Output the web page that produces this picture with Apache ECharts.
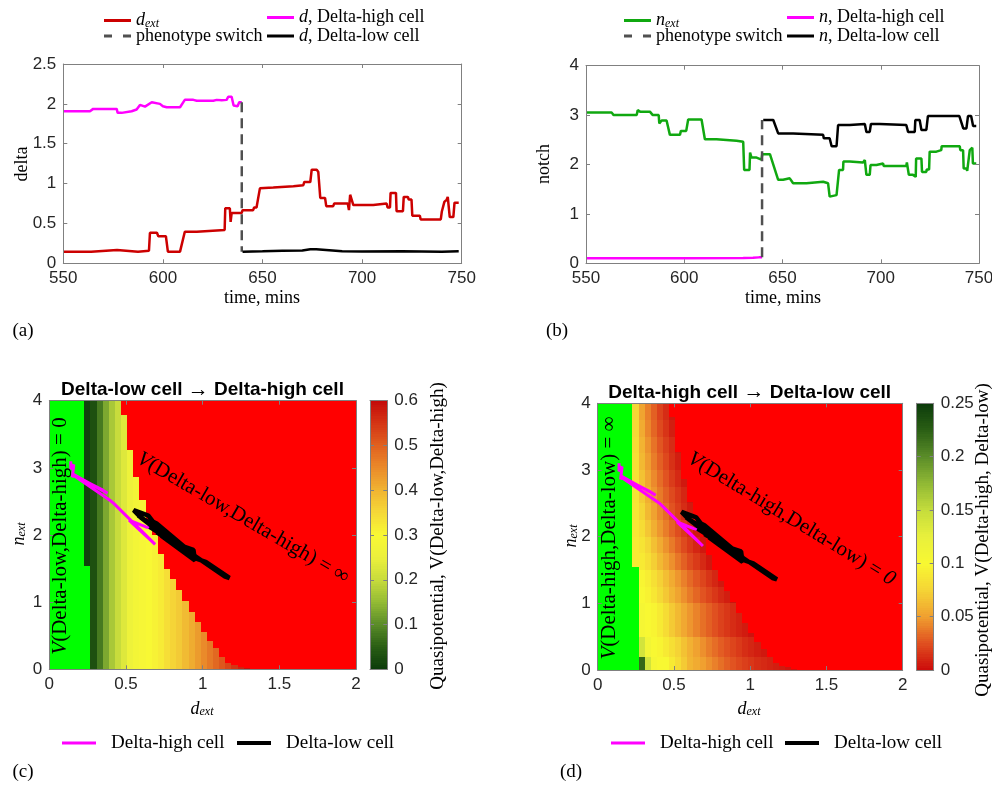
<!DOCTYPE html>
<html>
<head>
<meta charset="utf-8">
<script src="https://cdn.jsdelivr.net/npm/echarts@6/dist/echarts.min.js"></script>
<style>
  html, body { margin: 0; padding: 0; background: #fff; }
  #main { width: 992px; height: 787px; }
</style>
</head>
<body>
<div id="main"></div>
<script>
// ---- time series, [time (mins), value] ----
var dExt = [[550,0.146],[564,0.146],[564.5,0.167],[577,0.167],[577.5,0.146],[587.5,0.146],[588,0.158],[593,0.158],[593.5,0.383],[597,0.383],[597.7,0.34],[601.5,0.34],[602.5,0.146],[608.6,0.146],[611,0.396],[617,0.396],[617.5,0.417],[631,0.417],[631.3,0.69],[633.6,0.69],[634,0.52],[634.5,0.63],[639.5,0.63],[640,0.667],[645.3,0.667],[645.8,0.70],[647,0.70],[648.7,0.94],[655.4,0.95],[656,0.967],[665.5,0.967],[666,0.98],[670.5,0.98],[671,1.02],[674,1.02],[674.7,1.175],[677.2,1.175],[678,1.146],[678.5,1.146],[679,0.82],[681.4,0.82],[682,0.717],[685.5,0.717],[686,0.75],[692.8,0.75],[693.4,0.667],[694,0.86],[694.8,0.86],[695.6,0.73],[705.6,0.73],[706,0.75],[712.3,0.75],[712.8,0.70],[714,0.70],[714.3,0.883],[717,0.883],[717.3,0.654],[720.5,0.654],[720.9,0.833],[723,0.833],[723.4,0.8],[724.8,0.8],[725.2,0.596],[729,0.596],[729.4,0.55],[739.5,0.55],[740,0.646],[741,0.646],[741.3,0.77],[742.5,0.8],[743,0.833],[743.6,0.833],[744,0.58],[745.8,0.58],[746.4,0.76],[748.5,0.76]];
var dHigh = [[550,1.908],[563.4,1.908],[565,1.937],[576.8,1.937],[577.3,1.887],[579.3,1.887],[580,1.908],[584.3,1.908],[585,1.929],[586.8,1.929],[588.5,1.987],[591,1.965],[592,1.99],[594.4,2.02],[598.5,2.0],[600,1.97],[601.9,1.958],[608.6,1.958],[611,2.05],[615.3,2.05],[617,2.04],[625.3,2.04],[627,2.05],[629.5,2.045],[632,2.05],[632.8,2.09],[634.5,2.09],[635.5,1.98],[637.5,1.97],[638.3,2.02],[639.6,2.02]];
var dLow = [[640,0.146],[650,0.15],[660,0.158],[670,0.16],[674,0.175],[677,0.175],[678,0.155],[690,0.15],[700,0.148],[720,0.15],[740,0.146],[748.5,0.15]];
var nExt = [[550,3.055],[563,3.055],[564,3.0],[575.8,3.0],[576.3,3.1],[577.5,3.07],[582.5,3.07],[584,3.0],[587,3.0],[587.3,2.83],[588.5,2.89],[591,2.89],[592.7,2.6],[597.8,2.6],[598.3,2.68],[601,2.68],[602,2.91],[608.8,2.91],[610.5,2.51],[616.4,2.51],[616.8,2.48],[626.6,2.48],[627,2.46],[630,2.46],[630.5,1.89],[633.2,1.89],[633.5,2.24],[634.2,2.14],[636.8,2.14],[637,2.1],[639.3,2.1],[639.7,2.21],[643.6,2.21],[647.8,1.69],[650.3,1.69],[650.6,1.72],[653.7,1.72],[655.4,1.62],[662.2,1.62],[662.5,1.65],[670.7,1.65],[671,1.62],[673.2,1.62],[674,1.35],[677.5,1.38],[678.8,1.89],[680.8,1.89],[681,2.06],[684.2,2.06],[684.5,2.04],[691,2.04],[691.9,2.09],[692.7,1.79],[694.4,1.79],[694.8,1.99],[697.8,1.99],[698,2.02],[701.2,2.02],[701.5,1.97],[713,1.97],[713.3,2.04],[714,2.04],[714.3,1.79],[716.4,1.79],[716.6,1.75],[717.8,1.75],[718,2.12],[720.7,2.12],[721,1.85],[723.2,1.85],[723.4,1.9],[724.6,1.9],[724.9,2.26],[728.3,2.26],[728.6,2.29],[730.8,2.29],[731,2.37],[740.2,2.37],[740.5,2.29],[741.9,2.29],[742.2,1.92],[743.6,1.92],[744,1.87],[744.4,1.87],[745.3,2.29],[746.6,2.34],[746.9,2.02],[748.6,2.02]];
var nHigh = [[550,0.1],[600,0.1],[630,0.105],[635,0.11],[638,0.12],[639.6,0.12]];
var nLow = [[640.2,2.9],[645.3,2.9],[647.8,2.63],[655.4,2.63],[655.7,2.6],[670.7,2.6],[671,2.53],[674,2.53],[675,2.37],[677.5,2.37],[678.3,2.8],[684.2,2.8],[684.5,2.82],[691.9,2.82],[692.7,2.66],[694.4,2.66],[695,2.82],[699.5,2.82],[699.8,2.8],[713,2.8],[713.9,2.66],[717.3,2.66],[717.6,2.9],[719.8,2.9],[720.7,2.7],[723.2,2.7],[724,2.98],[740,2.98],[742,2.73],[743.6,2.73],[744.4,2.98],[746,2.98],[747,2.78],[748.6,2.78]];
var switchTime = 639.6;

// ---- trajectories in the (d_ext, n_ext) plane ----
var trajHigh = [[0.14,3.10],[0.14,2.98],[0.16,3.05],[0.15,2.86],[0.16,2.90],[0.38,2.62],[0.34,2.68],[0.15,2.90],[0.40,2.51],[0.42,2.47],[0.69,1.86],[0.52,2.22],[0.63,2.12],[0.67,2.10]];
var trajLow = [[0.667,2.21],[0.70,2.17],[0.95,1.69],[0.967,1.64],[0.98,1.65],[1.02,1.60],[1.175,1.36],[1.146,1.38],[0.82,1.89],[0.717,2.06],[0.75,2.04],[0.667,2.14],[0.86,1.84],[0.94,1.78],[0.95,1.62],[0.73,1.99],[0.75,1.97],[0.70,2.04],[0.883,1.79],[0.654,2.12],[0.833,1.87],[0.8,1.90],[0.596,2.26],[0.55,2.37],[0.646,2.29],[0.77,1.92],[0.833,1.87],[0.58,2.29],[0.76,2.02]];

// ---- quasipotential maps: columns in d_ext ----
var cellD = [0.248,0.288,0.328,0.368,0.408,0.448,0.488,0.528,0.568,0.608,0.648,0.688,0.728,0.768,0.808,0.848,0.888,0.928,0.968,1.008,1.048,1.088,1.128,1.168,1.208,1.248,1.288];
var cellTop = [4,4,4,4,4,4,3.79,3.27,2.87,2.52,2.23,2.0,1.72,1.5,1.34,1.18,1.02,0.86,0.71,0.55,0.42,0.31,0.19,0.1,0.06,0.04,0.02];
var cellHalf = 0.02;
var greenEdge = [0.228, 0.268];
var greenStepN = 1.54;
// (c) V(Delta-low,Delta-high), one value per column
var vLowHigh = [0.01,0.03,0.08,0.13,0.17,0.2,0.23,0.26,0.28,0.29,0.3,0.31,0.32,0.34,0.355,0.37,0.39,0.41,0.43,0.45,0.47,0.49,0.51,0.53,0.55,0.57,0.59];
// (d) V(Delta-high,Delta-low), one row of columns per band in n_ext
var bandN = [0, 0.2, 0.5, 1, 1.25, 1.5, 1.75, 2, 2.25, 2.5, 2.75, 3, 3.25, 3.5, 3.75, 4];
var vHighLow = [
  [null,0.22,0.14,0.105,0.1,0.1,0.09,0.08,0.07,0.06,0.055,0.05,0.045,0.04,0.035,0.03,0.026,0.022,0.019,0.016,0.013,0.011,0.009,0.007,0.006,0.004,0.003],
  [null,0.14,0.11,0.1,0.097,0.09,0.082,0.074,0.066,0.058,0.051,0.045,0.039,0.034,0.029,0.025,0.021,0.017,0.013,0.01,0.007,0.005],
  [null,0.105,0.1,0.097,0.09,0.08,0.07,0.062,0.054,0.047,0.041,0.035,0.03,0.025,0.02,0.016,0.012,0.009,0.006,0.003],
  [null,0.1,0.096,0.088,0.078,0.069,0.06,0.052,0.045,0.038,0.032,0.026,0.021,0.016,0.011,0.007,0.003],
  [null,0.098,0.092,0.083,0.073,0.064,0.055,0.047,0.04,0.033,0.027,0.021,0.015,0.01,0.005],
  [0.09,0.09,0.082,0.072,0.062,0.053,0.045,0.037,0.03,0.023,0.017,0.011,0.005],
  [0.09,0.086,0.076,0.065,0.055,0.046,0.038,0.03,0.023,0.016,0.01,0.005],
  [0.088,0.08,0.068,0.057,0.047,0.039,0.031,0.024,0.017,0.011,0.005],
  [0.087,0.075,0.062,0.051,0.042,0.034,0.026,0.019,0.012,0.006],
  [0.086,0.07,0.057,0.047,0.038,0.03,0.023,0.016,0.01,0.004],
  [0.084,0.066,0.053,0.043,0.034,0.026,0.018,0.011,0.005],
  [0.082,0.062,0.049,0.039,0.03,0.022,0.014,0.007],
  [0.08,0.059,0.046,0.036,0.027,0.019,0.012,0.005],
  [0.078,0.055,0.042,0.032,0.023,0.015,0.007],
  [0.076,0.052,0.04,0.03,0.02,0.012,0.005]
];

var cmapC = ['#0b3b0b','#2a5e14','#5a8c28','#94bb35','#c8dc3c','#ecf03c','#f8f834','#f5d838','#f0b432','#ea8a2a','#e0601f','#d43414','#c40a0a'];
var cmapD = ['#cc0a0a','#e05020','#f0a030','#f5d535','#f8f832','#e8f03c','#c4dc3c','#90b834','#5a8c28','#2a5e14','#0b3b0b'];

var serif = 'Liberation Serif';
var sans = 'Liberation Sans';
var axisGray = '#808080';

var richText = {
  i: { fontFamily: serif, fontStyle: 'italic', fontSize: 18, lineHeight: 18, verticalAlign: 'top' },
  s: { fontFamily: serif, fontStyle: 'italic', fontSize: 12, lineHeight: 12, verticalAlign: 'bottom', padding: [9, 0, 0, 0] },
  v: { fontFamily: serif, fontStyle: 'italic', fontSize: 21 },
  p: { fontFamily: serif, fontSize: 19, padding: [0, 0, 0, 10] },
  a: { fontFamily: serif, fontSize: 21, fontWeight: 'normal' }
};

// build heat cells
var heatC = [];
cellD.forEach(function (d, k) {
  heatC.push([d - cellHalf, d + cellHalf, k === 0 ? greenStepN : 0, cellTop[k], vLowHigh[k]]);
});
var heatD = [];
vHighLow.forEach(function (row, b) {
  row.forEach(function (v, k) {
    if (v == null) return;
    var lo = Math.max(bandN[b], k === 0 ? greenStepN : 0);
    var hi = Math.min(bandN[b + 1], cellTop[k]);
    if (hi > lo) heatD.push([cellD[k] - cellHalf, cellD[k] + cellHalf, lo, hi, v]);
  });
});
var greenCells = [[0, greenEdge[0], 0, 4], [greenEdge[0], greenEdge[1], 0, greenStepN]];
// colour bar slices
var barC = [], barD = [];
for (var i = 0; i < 120; i++) {
  barC.push([0, 1, i * 0.005, (i + 1) * 0.005, (i + 0.5) * 0.005]);
  barD.push([0, 1, i * 0.25 / 120, (i + 1) * 0.25 / 120, (i + 0.5) * 0.25 / 120]);
}

function renderCell(params, api) {
  var a = api.coord([api.value(0), api.value(3)]);
  var b = api.coord([api.value(1), api.value(2)]);
  var x0 = Math.round(a[0]), y0 = Math.round(a[1]);
  return {
    type: 'rect',
    shape: { x: x0, y: y0, width: Math.round(b[0]) - x0, height: Math.round(b[1]) - y0 },
    style: { fill: api.visual('color') }
  };
}

var chart = echarts.init(document.getElementById('main'));

var grids = [
  { left: 63.3, top: 64, width: 398.4, height: 199.3 },
  { left: 586, top: 65.7, width: 393, height: 197.6 },
  { left: 49.3, top: 400.7, width: 306.7, height: 268.6, show: true, backgroundColor: '#ff0000', borderWidth: 0 },
  { left: 597.7, top: 403.3, width: 305, height: 266.7, show: true, backgroundColor: '#ff0000', borderWidth: 0 },
  { left: 370, top: 400.7, width: 17.3, height: 268.6 },
  { left: 916.7, top: 403.3, width: 17, height: 266.7 }
];
grids.forEach(function (g) { g.outerBoundsMode = 'none'; g.containLabel = false; });

function axis(grid, pos, min, max, interval, labels, ticks) {
  return {
    type: 'value', gridIndex: grid, position: pos, min: min, max: max, interval: interval, z: 5,
    axisLine: { show: true, onZero: false, lineStyle: { color: axisGray, width: 1 } },
    axisTick: { show: ticks, inside: true, length: 4, lineStyle: { color: axisGray } },
    axisLabel: { show: labels, margin: 7, color: '#262626', fontSize: 17, fontFamily: sans },
    splitLine: { show: false }
  };
}

var xAxes = [
  axis(0, 'bottom', 550, 750, 50, true, true), axis(0, 'top', 550, 750, 50, false, true),
  axis(1, 'bottom', 550, 750, 50, true, true), axis(1, 'top', 550, 750, 50, false, true),
  axis(2, 'bottom', 0, 2, 0.5, true, true), axis(2, 'top', 0, 2, 0.5, false, true),
  axis(3, 'bottom', 0, 2, 0.5, true, true), axis(3, 'top', 0, 2, 0.5, false, true),
  axis(4, 'bottom', 0, 1, 1, false, false), axis(4, 'top', 0, 1, 1, false, false),
  axis(5, 'bottom', 0, 1, 1, false, false), axis(5, 'top', 0, 1, 1, false, false)
];
var yAxes = [
  axis(0, 'left', 0, 2.5, 0.5, true, true), axis(0, 'right', 0, 2.5, 0.5, false, true),
  axis(1, 'left', 0, 4, 1, true, true), axis(1, 'right', 0, 4, 1, false, true),
  axis(2, 'left', 0, 4, 1, true, true), axis(2, 'right', 0, 4, 1, false, true),
  axis(3, 'left', 0, 4, 1, true, true), axis(3, 'right', 0, 4, 1, false, true),
  axis(4, 'left', 0, 0.6, 0.1, false, true), axis(4, 'right', 0, 0.6, 0.1, true, true),
  axis(5, 'left', 0, 0.25, 0.05, false, true), axis(5, 'right', 0, 0.25, 0.05, true, true)
];

function line(name, ax, data, color, width, dashed) {
  return {
    name: name, type: 'line', xAxisIndex: ax, yAxisIndex: ax, data: data,
    symbol: 'none', clip: true, z: 3,
    lineStyle: { color: color, width: width, type: dashed ? [10, 6] : 'solid' },
    itemStyle: { color: color }
  };
}
function cells(name, ax, data, color) {
  return {
    name: name, type: 'custom', xAxisIndex: ax, yAxisIndex: ax, data: data,
    renderItem: renderCell, clip: true, z: 1,
    encode: { x: [0, 1], y: [2, 3] },
    itemStyle: color ? { color: color } : undefined
  };
}

var series = [
  line('dext', 0, dExt, '#cc0000', 2.5),
  line('dhigh', 0, dHigh, '#ff00ff', 2.5),
  line('switchA', 0, [[switchTime, dHigh[dHigh.length - 1][1]], [switchTime, dLow[0][1]]], '#505050', 2.5, true),
  line('dlow', 0, dLow, '#000000', 2.5),
  line('next', 2, nExt, '#10a810', 2.5),
  line('nhigh', 2, nHigh, '#ff00ff', 2.5),
  line('switchB', 2, [[switchTime, nHigh[nHigh.length - 1][1]], [switchTime, nLow[0][1]]], '#505050', 2.5, true),
  line('nlow', 2, nLow, '#000000', 2.5),
  cells('greenC', 4, greenCells, '#00ff00'),
  cells('heatC', 4, heatC),
  line('highC', 4, trajHigh, '#ff00ff', 3),
  line('lowC', 4, trajLow, '#000000', 4.5),
  cells('greenD', 6, greenCells, '#00ff00'),
  cells('heatD', 6, heatD),
  line('highD', 6, trajHigh, '#ff00ff', 3),
  line('lowD', 6, trajLow, '#000000', 4.5),
  cells('barC', 8, barC),
  cells('barD', 10, barD)
];

var legendText = {
  dext: '{i|d}{s|ext}', dhigh: '{i|d}, Delta-high cell', switchA: 'phenotype switch', dlow: '{i|d}, Delta-low cell',
  next: '{i|n}{s|ext}', nhigh: '{i|n}, Delta-high cell', switchB: 'phenotype switch', nlow: '{i|n}, Delta-low cell',
  highC: '{p|Delta-high cell}', lowC: '{p|Delta-low cell}', highD: '{p|Delta-high cell}', lowD: '{p|Delta-low cell}'
};
var dashIcon = 'path://M0,0h8v3h-8zM19,0h8v3h-8z';
function legendAt(name, left, midY, w, h, icon) {
  return {
    data: [name], left: left, top: midY - 8, padding: 0, itemWidth: w, itemHeight: h,
    icon: icon || 'rect', selectedMode: false,
    formatter: function (n) { return legendText[n]; },
    textStyle: { fontFamily: serif, fontSize: 18, color: '#000', rich: richText }
  };
}
var legends = [
  legendAt('dext', 104, 16.5, 27, 3), legendAt('dhigh', 267, 16.5, 27, 3),
  legendAt('switchA', 104, 35, 27, 3, dashIcon), legendAt('dlow', 267, 35, 27, 3),
  legendAt('next', 624, 16.5, 27, 3), legendAt('nhigh', 787, 16.5, 27, 3),
  legendAt('switchB', 624, 35, 27, 3, dashIcon), legendAt('nlow', 787, 35, 27, 3),
  legendAt('highC', 62, 741.5, 34, 3), legendAt('lowC', 237, 741.5, 34, 4),
  legendAt('highD', 611, 741.5, 34, 3), legendAt('lowD', 785, 741.5, 34, 4)
];

function txt(x, y, text, size, opts) {
  opts = opts || {};
  return {
    type: 'text', x: x, y: y, rotation: opts.rot || 0, z: 100, silent: true,
    style: {
      text: text, fill: '#000', fontFamily: opts.family || serif, fontSize: size,
      fontWeight: opts.weight || 'normal', align: 'center', verticalAlign: 'middle', rich: richText
    }
  };
}
var up = Math.PI / 2;
var graphics = [
  txt(262, 298, 'time, mins', 18), txt(783, 298, 'time, mins', 18),
  txt(22, 164, 'delta', 18, { rot: up }), txt(544, 164, 'notch', 18, { rot: up }),
  txt(23, 331, '(a)', 19), txt(557, 331, '(b)', 19), txt(23, 772, '(c)', 19), txt(571, 772, '(d)', 19),
  txt(202.5, 390, 'Delta-low cell {a|\u2192} Delta-high cell', 19, { family: sans, weight: 'bold' }),
  txt(749.7, 392.7, 'Delta-high cell {a|\u2192} Delta-low cell', 19, { family: sans, weight: 'bold' }),
  txt(19, 534, '{i|n}{s|ext}', 18, { rot: up }), txt(571, 536, '{i|n}{s|ext}', 18, { rot: up }),
  txt(202, 709, '{i|d}{s|ext}', 18), txt(749, 709, '{i|d}{s|ext}', 18),
  txt(60, 536, '{v|V}(Delta-low,Delta-high) = 0', 21, { rot: up }),
  txt(609, 538, '{v|V}(Delta-high,Delta-low) = \u221e', 21, { rot: up }),
  txt(243, 518, '{v|V}(Delta-low,Delta-high) = \u221e', 21, { rot: -0.527 }),
  txt(791.5, 519, '{v|V}(Delta-high,Delta-low) = {v|0}', 21, { rot: -0.545 }),
  txt(438, 536, 'Quasipotential, V(Delta-low,Delta-high)', 19, { rot: up }),
  txt(983, 540, 'Quasipotential, V(Delta-high, Delta-low)', 19, { rot: up })
];

chart.setOption({
  animation: false,
  backgroundColor: '#ffffff',
  grid: grids,
  xAxis: xAxes,
  yAxis: yAxes,
  visualMap: [
    { type: 'continuous', show: false, min: 0, max: 0.6, dimension: 4, seriesIndex: [9, 16], inRange: { color: cmapC } },
    { type: 'continuous', show: false, min: 0, max: 0.25, dimension: 4, seriesIndex: [13, 17], inRange: { color: cmapD } }
  ],
  legend: legends,
  series: series,
  graphic: { elements: graphics }
});
</script>
</body>
</html>
